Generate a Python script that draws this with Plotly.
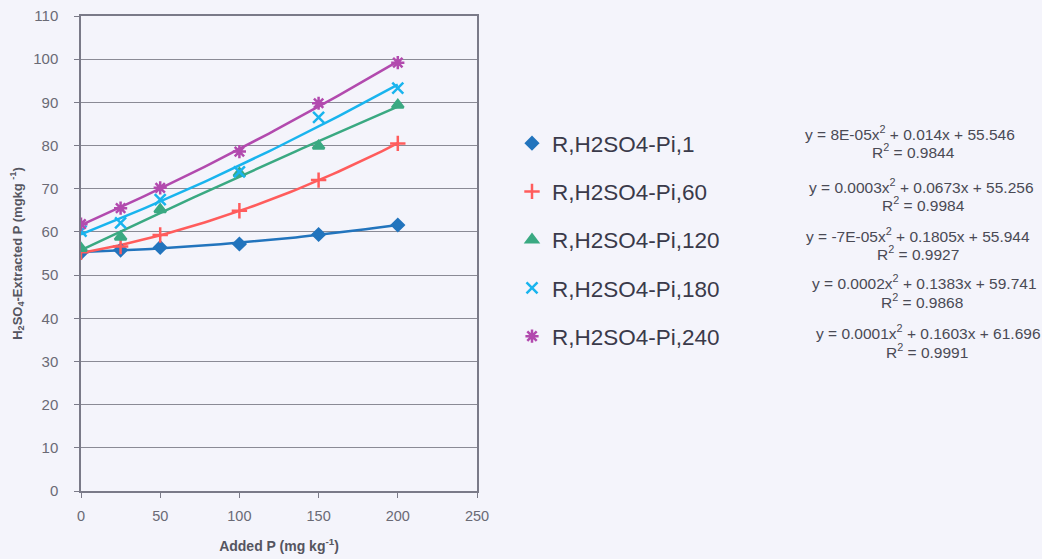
import numpy as np
import plotly.graph_objects as go

# ---- data ----
added_p = [0, 25, 50, 100, 150, 200]
series_names = ["R,H2SO4-Pi,1", "R,H2SO4-Pi,60", "R,H2SO4-Pi,120",
                "R,H2SO4-Pi,180", "R,H2SO4-Pi,240"]
pi_1 = [55.2, 55.8, 56.4, 57.2, 59.4, 61.6]
pi_60 = [55.3, 56.6, 59.3, 64.9, 72.0, 80.5]
pi_120 = [56.2, 58.8, 65.2, 73.6, 79.9, 89.4]
pi_180 = [60.2, 62.1, 67.5, 73.9, 86.5, 93.3]
pi_240 = [61.8, 65.5, 70.2, 78.6, 89.8, 99.2]
equations = ["y = 8E-05x<sup>2</sup> + 0.014x + 55.546",
             "y = 0.0003x<sup>2</sup> + 0.0673x + 55.256",
             "y = -7E-05x<sup>2</sup> + 0.1805x + 55.944",
             "y = 0.0002x<sup>2</sup> + 0.1383x + 59.741",
             "y = 0.0001x<sup>2</sup> + 0.1603x + 61.696"]
r_squared = ["R<sup>2</sup> = 0.9844", "R<sup>2</sup> = 0.9984",
             "R<sup>2</sup> = 0.9927", "R<sup>2</sup> = 0.9868",
             "R<sup>2</sup> = 0.9991"]
x_ticks = [0, 50, 100, 150, 200, 250]
y_ticks = list(range(0, 111, 10))

# ---- styling ----
colors = ["#2274bd", "#ff5c5c", "#3aa982", "#19b4ee", "#b24aae"]
symbols = ["diamond", "cross-thin-open", "triangle-up", "x-thin-open", "asterisk-open"]
sizes = [9, 11, 10, 11, 11]
eq_pos = [(910, 133, 913, 151), (921, 186, 923, 204), (918, 235, 918, 253),
          (924, 282, 922, 301), (928, 332, 927, 351)]

W, H = 1042, 559
L, R, T, B = 81, 477, 16, 491

fig = go.Figure()
all_series = [pi_1, pi_60, pi_120, pi_180, pi_240]
for i, (name, ys) in enumerate(zip(series_names, all_series)):
    coef = np.polyfit(added_p, ys, 2)
    xs = np.linspace(min(added_p), max(added_p), 60)
    fig.add_trace(go.Scatter(x=xs, y=np.polyval(coef, xs), mode="lines",
                             line=dict(color=colors[i], width=2.5),
                             showlegend=False, hoverinfo="skip"))
for i, (name, ys) in enumerate(zip(series_names, all_series)):
    fig.add_trace(go.Scatter(x=added_p, y=ys, mode="markers", name=name,
                             legendgroup=f"g{i}",
                             marker=dict(color=colors[i], symbol=symbols[i], size=sizes[i],
                                         line=dict(color=colors[i], width=2.5))))

def px_x(p):
    return (p - L) / (R - L)

def px_y(p):
    return 1 - (p - T) / (B - T)

for i in range(5):
    ex, ey, rx, ry = eq_pos[i]
    fig.add_annotation(x=px_x(ex), y=px_y(ey), xref="paper", yref="paper",
                       text=equations[i], showarrow=False, xanchor="center", yanchor="middle",
                       font=dict(family="Arial, Liberation Sans", size=15.5, color="#4a4a55"))
    fig.add_annotation(x=px_x(rx), y=px_y(ry), xref="paper", yref="paper",
                       text=r_squared[i], showarrow=False, xanchor="center", yanchor="middle",
                       font=dict(family="Arial, Liberation Sans", size=15.5, color="#4a4a55"))

bg = "#f4f4fb"
fig.update_layout(
    width=W, height=H,
    margin=dict(l=L, r=W - R, t=T, b=H - B, autoexpand=False),
    paper_bgcolor=bg, plot_bgcolor=bg,
    font=dict(family="Arial, Liberation Sans", color="#555560"),
    legend=dict(x=px_x(512), y=px_y(122), xanchor="left", yanchor="top",
                bgcolor="rgba(0,0,0,0)", tracegroupgap=16,
                font=dict(size=22.5, color="#3a3a4a"), itemwidth=30),
    xaxis=dict(range=[0, 250], tickvals=x_ticks, showgrid=False, zeroline=False,
               automargin=False,
               showline=True, linecolor="#7a7a88", linewidth=1.5, mirror=True,
               ticks="outside", ticklen=5, tickcolor="#7a7a88", ticklabelstandoff=6,
               tickfont=dict(size=14.5, color="#6a6a75"),
               title=dict(text="<b>Added P (mg kg<sup>-1</sup>)</b>", standoff=18,
                          font=dict(size=14, color="#555560"))),
    yaxis=dict(range=[0, 110], tickvals=y_ticks, showgrid=True, gridcolor="#8a8a95",
               gridwidth=1, zeroline=False, automargin=False,
               showline=True, linecolor="#7a7a88", linewidth=1.5, mirror=True,
               ticks="outside", ticklen=5, tickcolor="#7a7a88", ticklabelstandoff=13,
               tickfont=dict(size=15, color="#6a6a75"),
               title=dict(text="<b>H<sub>2</sub>SO<sub>4</sub>-Extracted P (mgkg <sup>-1</sup>)</b>",
                          standoff=8, font=dict(size=13, color="#555560"))),
)

fig.write_html("out.html")
